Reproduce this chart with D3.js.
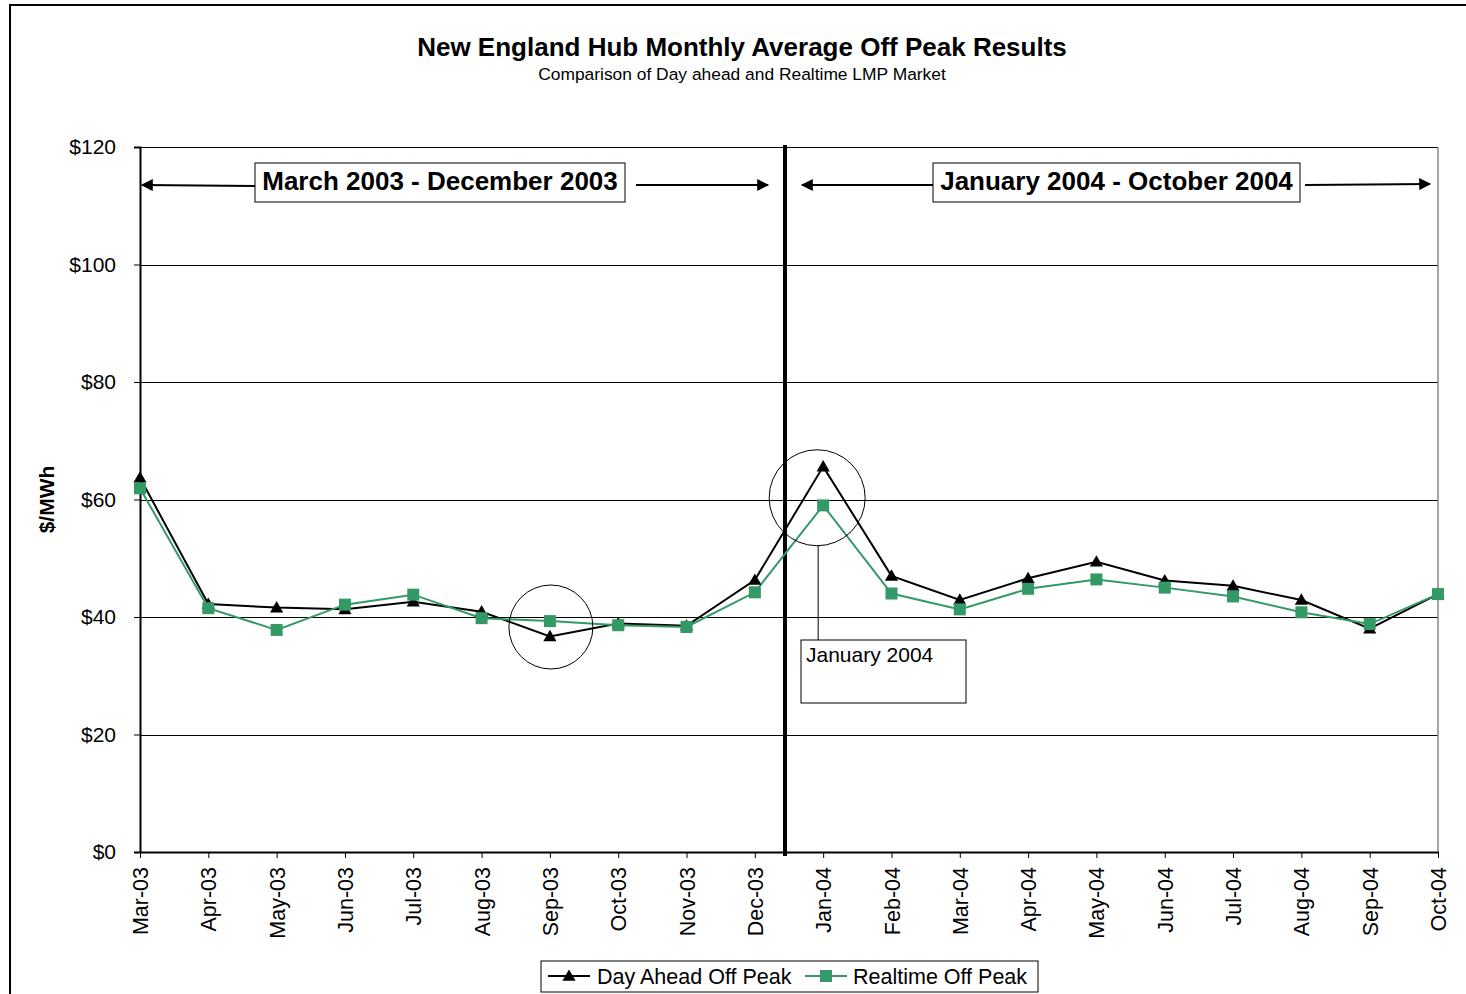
<html>
    <head>
        <style>
            body {
                margin: 0;
                background-color: white;
                font-family: "Liberation Sans", Arial, sans-serif;
            }
            .grid line {
                stroke: black;
                stroke-width: 1;
                shape-rendering: crispEdges;
            }
            .grid path {
                display: none;
            }
        </style>
    </head>
    <body>
        <svg width="1466" height="994"></svg>
    </body>
    <script src="https://d3js.org/d3.v7.min.js"></script>
    <script>
        var months = ["Mar-03", "Apr-03", "May-03", "Jun-03", "Jul-03", "Aug-03", "Sep-03", "Oct-03", "Nov-03", "Dec-03",
                      "Jan-04", "Feb-04", "Mar-04", "Apr-04", "May-04", "Jun-04", "Jul-04", "Aug-04", "Sep-04", "Oct-04"];
        var dayAhead = [63.7, 42.2, 41.6, 41.3, 42.6, 40.9, 36.7, 38.9, 38.5, 46.3,
                        65.6, 47.0, 42.9, 46.6, 49.4, 46.2, 45.3, 42.9, 38.0, 43.9];
        var realtime = [61.9, 41.5, 37.8, 42.1, 43.8, 39.8, 39.3, 38.6, 38.3, 44.2,
                        59.0, 44.0, 41.3, 44.8, 46.4, 45.0, 43.5, 40.8, 38.8, 43.9];
        var yTicks = [0, 20, 40, 60, 80, 100, 120];

        var green = "#339966";

        var svg = d3.select("svg");

        var margin = { top: 147, left: 140, right: 28, bottom: 142 },
            width = 1466, height = 994,
            innerWidth = width - margin.left - margin.right,
            innerHeight = height - margin.top - margin.bottom;

        var xScale = d3.scalePoint().domain(months).range([margin.left, margin.left + innerWidth]),
            yScale = d3.scaleLinear().domain([0, 120]).range([margin.top + innerHeight, margin.top]);

        // outer frame
        svg.append("path")
            .attr("d", "M10,994 L10,5 L1466,5")
            .attr("fill", "none")
            .attr("stroke", "black")
            .attr("stroke-width", 2);

        // titles
        svg.append("text")
            .attr("x", 742).attr("y", 56)
            .attr("text-anchor", "middle")
            .attr("font-size", 26).attr("font-weight", "bold")
            .text("New England Hub Monthly Average Off Peak Results");
        svg.append("text")
            .attr("x", 742).attr("y", 80)
            .attr("text-anchor", "middle")
            .attr("font-size", 17.4)
            .text("Comparison of Day ahead and Realtime LMP Market");

        // gridlines
        svg.append("g")
            .attr("class", "grid")
            .attr("transform", "translate(" + margin.left + ",0)")
            .call(d3.axisLeft(yScale).tickValues(yTicks).tickSize(-innerWidth).tickFormat(""));

        // plot border right
        svg.append("line")
            .attr("x1", margin.left + innerWidth).attr("x2", margin.left + innerWidth)
            .attr("y1", margin.top).attr("y2", margin.top + innerHeight)
            .attr("stroke", "#888").attr("stroke-width", 1.5);

        // y axis
        var yAxis = svg.append("g")
            .attr("transform", "translate(" + margin.left + ",0)")
            .call(d3.axisLeft(yScale).tickValues(yTicks).tickSize(6).tickPadding(18)
                .tickFormat(function(d) { return "$" + d; }));
        yAxis.select(".domain").attr("stroke-width", 2);
        yAxis.selectAll("text")
            .attr("font-size", 21)
            .attr("font-family", "Liberation Sans, Arial, sans-serif")
            .attr("fill", "black");

        svg.append("text")
            .attr("transform", "translate(54," + yScale(60) + ") rotate(-90)")
            .attr("text-anchor", "middle")
            .attr("font-size", 21).attr("font-weight", "bold")
            .text("$/MWh");

        // x axis
        var xAxis = svg.append("g")
            .attr("transform", "translate(0," + (margin.top + innerHeight) + ")")
            .call(d3.axisBottom(xScale).tickSize(6).tickSizeOuter(0));
        xAxis.select(".domain").attr("stroke-width", 2);
        xAxis.selectAll("text")
            .attr("font-size", 21.5)
            .attr("font-family", "Liberation Sans, Arial, sans-serif")
            .attr("fill", "black")
            .attr("text-anchor", "end")
            .attr("dy", "0.35em")
            .attr("transform", "translate(0,6) rotate(-90)")
            .attr("x", -9).attr("y", 0);

        // divider between years
        var divX = (xScale("Dec-03") + xScale("Jan-04")) / 2 - 4;
        svg.append("line")
            .attr("x1", divX).attr("x2", divX)
            .attr("y1", margin.top - 2).attr("y2", margin.top + innerHeight + 4)
            .attr("stroke", "black").attr("stroke-width", 4);

        // period boxes with arrows
        function periodBox(x0, x1, label, arrows) {
            svg.append("rect")
                .attr("x", x0).attr("y", 163)
                .attr("width", x1 - x0).attr("height", 39)
                .attr("fill", "white").attr("stroke", "black").attr("stroke-width", 1);
            svg.append("text")
                .attr("x", (x0 + x1) / 2).attr("y", 190)
                .attr("text-anchor", "middle")
                .attr("font-size", 26).attr("font-weight", "bold")
                .text(label);
            arrows.forEach(function(a) {
                svg.append("line")
                    .attr("x1", a[0]).attr("y1", a[1]).attr("x2", a[2]).attr("y2", a[3])
                    .attr("stroke", "black").attr("stroke-width", 2)
                    .attr("marker-end", "url(#arrow)");
            });
        }

        svg.append("defs").append("marker")
            .attr("id", "arrow")
            .attr("viewBox", "0 0 10 10")
            .attr("refX", 9).attr("refY", 5)
            .attr("markerWidth", 7).attr("markerHeight", 6)
            .attr("markerUnits", "strokeWidth")
            .attr("orient", "auto")
            .append("path")
            .attr("d", "M0,0 L10,5 L0,10 Z")
            .attr("fill", "black");

        periodBox(255, 625, "March 2003 - December 2003",
            [[255, 186, 142, 185], [636, 185, 768, 185]]);
        periodBox(933, 1300, "January 2004 - October 2004",
            [[933, 185, 802, 185], [1305, 185, 1430, 184]]);

        // lines
        var line = d3.line()
            .x(function(d, i) { return xScale(months[i]); })
            .y(function(d) { return yScale(d); });

        svg.append("path")
            .datum(dayAhead)
            .attr("d", line)
            .attr("fill", "none")
            .attr("stroke", "black")
            .attr("stroke-width", 2);

        svg.append("path")
            .datum(realtime)
            .attr("d", line)
            .attr("fill", "none")
            .attr("stroke", green)
            .attr("stroke-width", 2);

        var tri = d3.symbol().type(d3.symbolTriangle).size(75);

        svg.selectAll(".tri")
            .data(dayAhead)
            .enter()
            .append("path")
            .attr("class", "tri")
            .attr("d", tri)
            .attr("transform", function(d, i) {
                return "translate(" + xScale(months[i]) + "," + (yScale(d) + 1) + ")";
            })
            .attr("fill", "black");

        svg.selectAll(".sq")
            .data(realtime)
            .enter()
            .append("rect")
            .attr("class", "sq")
            .attr("x", function(d, i) { return xScale(months[i]) - 6; })
            .attr("y", function(d) { return yScale(d) - 6; })
            .attr("width", 12).attr("height", 12)
            .attr("fill", green);

        // highlight circles
        svg.append("circle")
            .attr("cx", xScale("Sep-03") + 1).attr("cy", yScale(38.3))
            .attr("r", 42)
            .attr("fill", "none").attr("stroke", "black").attr("stroke-width", 1);
        svg.append("circle")
            .attr("cx", xScale("Jan-04") - 6).attr("cy", yScale(60.3))
            .attr("r", 48)
            .attr("fill", "none").attr("stroke", "black").attr("stroke-width", 1);

        // callout
        var calloutX = xScale("Jan-04") - 5;
        svg.append("line")
            .attr("x1", calloutX).attr("x2", calloutX)
            .attr("y1", yScale(60.3) + 48).attr("y2", 640)
            .attr("stroke", "black").attr("stroke-width", 1);
        svg.append("rect")
            .attr("x", 801).attr("y", 640)
            .attr("width", 165).attr("height", 63)
            .attr("fill", "white").attr("stroke", "black").attr("stroke-width", 1);
        svg.append("text")
            .attr("x", 806).attr("y", 662)
            .attr("font-size", 21)
            .text("January 2004");

        // legend
        var legend = svg.append("g");
        legend.append("rect")
            .attr("x", 541).attr("y", 961)
            .attr("width", 497).attr("height", 31)
            .attr("fill", "white").attr("stroke", "black").attr("stroke-width", 1);

        legend.append("line")
            .attr("x1", 548).attr("x2", 590).attr("y1", 976).attr("y2", 976)
            .attr("stroke", "black").attr("stroke-width", 2);
        legend.append("path")
            .attr("d", tri)
            .attr("transform", "translate(569,977)")
            .attr("fill", "black");
        legend.append("text")
            .attr("x", 597).attr("y", 984)
            .attr("font-size", 21.5)
            .text("Day Ahead Off Peak");

        legend.append("line")
            .attr("x1", 805).attr("x2", 847).attr("y1", 976).attr("y2", 976)
            .attr("stroke", green).attr("stroke-width", 2);
        legend.append("rect")
            .attr("x", 820).attr("y", 970).attr("width", 12).attr("height", 12)
            .attr("fill", green);
        legend.append("text")
            .attr("x", 853).attr("y", 984)
            .attr("font-size", 21.5)
            .text("Realtime Off Peak");
    </script>
</html>
